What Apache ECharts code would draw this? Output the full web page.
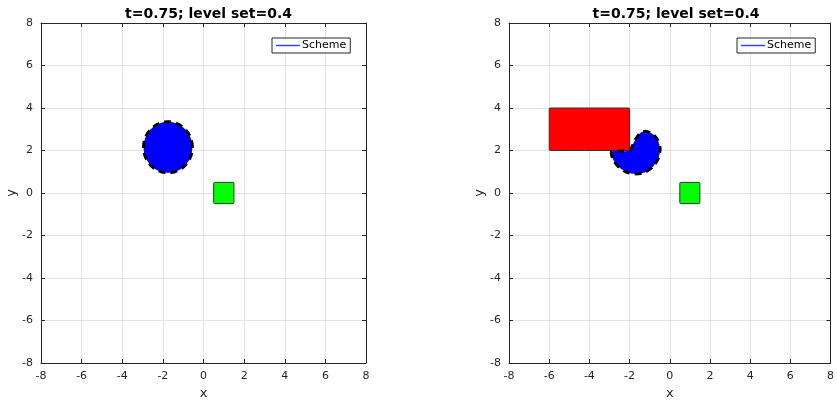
<!DOCTYPE html>
<html>
<head>
<meta charset="utf-8">
<script src="https://cdn.jsdelivr.net/npm/echarts@6/dist/echarts.min.js"></script>
<style>html,body{margin:0;padding:0;background:#fff;overflow:hidden}#c{width:837px;height:406px}</style>
</head>
<body>
<div id="c"></div>
<script>
// ---- data ----
const titleText = 't=0.75; level set=0.4';
const axisMin = -8, axisMax = 8, axisStep = 2;
const legendName = 'Scheme';
// left panel
const leftCircle = [[-1.75, 2.15, 1.2]];            // [cx, cy, r]
const leftTarget = [[0.5, -0.5, 1.5, 0.5]];         // [x0, y0, x1, y1]
// right panel
const rightObstacle = [[-6, 2, -2, 4]];             // [x0, y0, x1, y1]
const rightTarget = [[0.5, -0.5, 1.5, 0.5]];
const rightBlobOutline = [
  [-2.0, 2.0], [-1.75, 2.45], [-1.45, 2.84], [-1.15, 2.9], [-0.85, 2.78],
  [-0.6, 2.5], [-0.48, 2.1], [-0.56, 1.65], [-0.83, 1.25], [-1.25, 0.97],
  [-1.7, 0.9], [-2.15, 0.98], [-2.55, 1.23], [-2.82, 1.58], [-2.9, 1.95],
  [-2.5, 1.98]
];

const axisColor = '#262626';
const gridColor = '#e3e3e3';
const schemeColor = '#4040ff';
const font = 'DejaVu Sans';

function rectItem(fill) {
  return function (params, api) {
    const p0 = api.coord([api.value(0), api.value(1)]);
    const p1 = api.coord([api.value(2), api.value(3)]);
    return {
      type: 'rect',
      shape: { x: Math.min(p0[0], p1[0]), y: Math.min(p0[1], p1[1]),
               width: Math.abs(p1[0] - p0[0]), height: Math.abs(p1[1] - p0[1]), r: 1 },
      style: { fill: fill, stroke: '#333333', lineWidth: 1 }
    };
  };
}
const blobStyle = { fill: '#0000ff', stroke: '#000', lineWidth: 3, lineDash: [7, 5] };
function circleItem(params, api) {
  const cx = api.value(0), cy = api.value(1), r = api.value(2);
  const pts = [];
  for (let i = 0; i < 96; i++) {
    const a = i / 96 * Math.PI * 2;
    pts.push(api.coord([cx + r * Math.cos(a), cy + r * Math.sin(a)]));
  }
  return { type: 'polygon', shape: { points: pts }, style: blobStyle };
}
function outlineItem(outline) {
  return function (params, api) {
    const pts = outline.map(p => api.coord(p));
    return { type: 'polygon', shape: { points: pts, smooth: 0.25 }, style: blobStyle };
  };
}

function xAx(gi, pos) {
  const bottom = pos === 'bottom';
  return {
    gridIndex: gi, type: 'value', position: pos, min: axisMin, max: axisMax, interval: axisStep,
    name: bottom ? 'x' : '', nameLocation: 'middle', nameGap: 24,
    nameTextStyle: { color: axisColor, fontFamily: font, fontSize: 13 },
    axisLine: { show: true, onZero: false, lineStyle: { color: axisColor, width: 1 } },
    axisTick: { show: true, inside: true, length: 4, lineStyle: { color: axisColor } },
    axisLabel: { show: bottom, color: axisColor, fontFamily: font, fontSize: 11, margin: 8 },
    splitLine: { show: bottom, lineStyle: { color: gridColor, width: 1 } }
  };
}
function yAx(gi, pos) {
  const left = pos === 'left';
  return {
    gridIndex: gi, type: 'value', position: pos, min: axisMin, max: axisMax, interval: axisStep,
    name: left ? 'y' : '', nameLocation: 'middle', nameGap: 22, nameRotate: 90,
    nameTextStyle: { color: axisColor, fontFamily: font, fontSize: 13 },
    axisLine: { show: true, onZero: false, lineStyle: { color: axisColor, width: 1 } },
    axisTick: { show: true, inside: true, length: 4, lineStyle: { color: axisColor } },
    axisLabel: { show: left, color: axisColor, fontFamily: font, fontSize: 11, margin: 8 },
    splitLine: { show: left, lineStyle: { color: gridColor, width: 1 } }
  };
}
function legendAt(left) {
  return {
    data: [{ name: legendName, icon: 'rect',
             itemStyle: { color: schemeColor, borderWidth: 0, borderColor: schemeColor } }],
    left: left, top: 38, orient: 'vertical',
    padding: [2, 4, 2, 4], itemWidth: 24, itemHeight: 1.5, itemGap: 2,
    itemStyle: { color: schemeColor, borderWidth: 0, borderColor: schemeColor },
    backgroundColor: '#fff', borderColor: axisColor, borderWidth: 1, borderRadius: 0,
    textStyle: { color: '#000', fontFamily: font, fontSize: 11, padding: [0, 0, 0, -3] },
    selectedMode: false
  };
}

const chart = echarts.init(document.getElementById('c'), null, { renderer: 'canvas', width: 837, height: 406 });
chart.setOption({
  animation: false,
  backgroundColor: '#fff',
  color: [schemeColor],
  title: [
    { text: titleText, left: 203.5, top: 2, textAlign: 'center',
      textStyle: { fontFamily: font, fontSize: 14, fontWeight: 'bold', color: '#000' } },
    { text: titleText, left: 671, top: 2, textAlign: 'center',
      textStyle: { fontFamily: font, fontSize: 14, fontWeight: 'bold', color: '#000' } }
  ],
  legend: [legendAt(272), legendAt(737)],
  grid: [
    { left: 41, top: 23, width: 325, height: 340 },
    { left: 509, top: 23, width: 324, height: 340 }
  ],
  xAxis: [xAx(0, 'bottom'), xAx(0, 'top'), xAx(1, 'bottom'), xAx(1, 'top')],
  yAxis: [yAx(0, 'left'), yAx(0, 'right'), yAx(1, 'left'), yAx(1, 'right')],
  series: [
    { type: 'line', name: legendName, xAxisIndex: 0, yAxisIndex: 0, data: [], color: schemeColor,
      itemStyle: { color: schemeColor, borderColor: schemeColor }, lineStyle: { color: schemeColor } },
    { type: 'line', name: legendName, xAxisIndex: 2, yAxisIndex: 2, data: [], color: schemeColor,
      itemStyle: { color: schemeColor, borderColor: schemeColor }, lineStyle: { color: schemeColor } },
    { type: 'custom', xAxisIndex: 0, yAxisIndex: 0, renderItem: circleItem, data: leftCircle, clip: true },
    { type: 'custom', xAxisIndex: 0, yAxisIndex: 0, renderItem: rectItem('#00ff00'), data: leftTarget, clip: true },
    { type: 'custom', xAxisIndex: 2, yAxisIndex: 2, renderItem: rectItem('#ff0000'), data: rightObstacle, clip: true },
    { type: 'custom', xAxisIndex: 2, yAxisIndex: 2, renderItem: outlineItem(rightBlobOutline), data: [[0]], clip: true },
    { type: 'custom', xAxisIndex: 2, yAxisIndex: 2, renderItem: rectItem('#00ff00'), data: rightTarget, clip: true }
  ]
});
</script>
</body>
</html>
